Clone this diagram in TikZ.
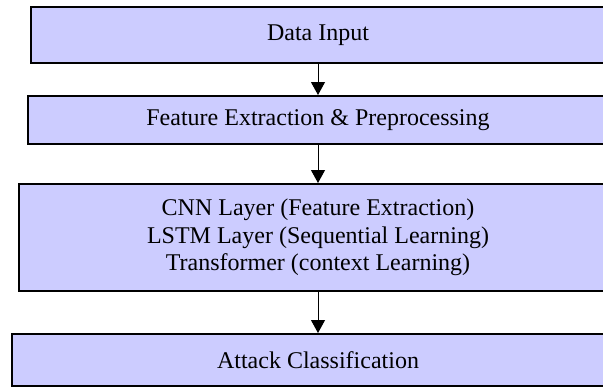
\documentclass[tikz,border=0pt]{standalone}
\usepackage{fontspec}
\setmainfont{Liberation Serif}
\usepackage{tikz}
\usetikzlibrary{positioning,arrows.meta}

\begin{document}
\begin{tikzpicture}[
    x=0.5pt, y=-0.5pt,
    stage/.style={draw, line width=1pt, fill=blue!20, rectangle, inner sep=0pt, align=center,
                  font=\fontsize{12}{13.8}\selectfont},
    flow/.style={-{Triangle[length=6.5pt,width=7pt]}, line width=0.5pt}
]

\path[use as bounding box] (0,0) rectangle (603,387);

\node[stage, minimum width=287pt, minimum height=28pt] (input) at (318,35) {Data Input};
\node[stage, minimum width=290.5pt, minimum height=24pt] (prep) at (318,120) {Feature Extraction \& Preprocessing};
\node[stage, minimum width=299pt, minimum height=53.5pt] (model) at (318,237.5)
    {CNN Layer (Feature Extraction)\\LSTM Layer (Sequential Learning)\\Transformer (context Learning)};
\node[stage, minimum width=306pt, minimum height=26pt] (attack) at (318,360) {Attack Classification};

% pipeline
\draw[flow] (input) -- (prep);
\draw[flow] (prep) -- (model);
\draw[flow] (model) -- (attack);

\end{tikzpicture}
\end{document}
